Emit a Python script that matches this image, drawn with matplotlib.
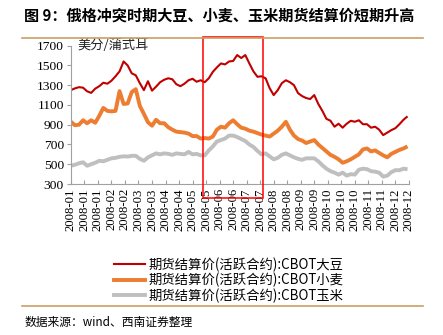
import matplotlib
matplotlib.use('Agg')
import matplotlib.pyplot as plt
from matplotlib.patches import Rectangle
from matplotlib.lines import Line2D
import matplotlib.transforms as mtransforms

plt.rcParams['font.family'] = ['Noto Sans CJK SC', 'DejaVu Sans']

# 交易日序号（每3个交易日取一个读数）
days = list(range(0, 250, 3))

soybean = [1250, 1268, 1280, 1275, 1238, 1222, 1265, 1290, 1325, 1315,
           1345, 1390, 1440, 1540, 1500, 1420, 1400, 1320, 1250, 1340,
           1245, 1285, 1330, 1355, 1370, 1360, 1310, 1290, 1315, 1350,
           1365, 1335, 1350, 1330, 1370, 1435, 1480, 1520, 1510, 1540,
           1545, 1605, 1575, 1605, 1520, 1440, 1385, 1390, 1370, 1270,
           1200, 1250, 1320, 1350, 1330, 1300, 1220, 1190, 1170, 1160,
           1200, 1110, 1040, 960, 940, 880, 910, 870, 910, 940,
           930, 945, 905, 905, 870, 880, 850, 795, 820, 845,
           865, 905, 950, 985]

wheat = [930, 895, 900, 945, 915, 945, 920, 990, 1070, 1040,
         1035, 1040, 1240, 1110, 1115, 1230, 1260, 1090, 1010, 925,
         890, 950, 915, 915, 875, 850, 830, 825, 820, 810,
         785, 785, 760, 765, 760, 780, 850, 880, 870, 915,
         945, 905, 870, 860, 840, 830, 815, 800, 790, 780,
         810, 840, 880, 930, 850, 790, 755, 740, 715, 730,
         745, 700, 665, 630, 595, 575, 550, 515, 530, 550,
         575, 600, 650, 660, 630, 640, 615, 590, 570, 605,
         625, 645, 660, 680]

corn = [485, 495, 510, 520, 485, 500, 515, 535, 530, 545,
        560, 565, 575, 580, 578, 585, 585, 555, 535, 570,
        590, 610, 600, 610, 605, 595, 610, 605, 600, 625,
        600, 605, 590, 590, 640, 680, 730, 745, 760, 790,
        790, 775, 755, 735, 700, 675, 635, 600, 610, 580,
        550, 565, 595, 610, 590, 570, 555, 545, 560, 560,
        560, 530, 490, 455, 430, 415, 395, 415, 385, 400,
        395, 445, 455, 450, 430, 425, 415, 375, 385, 420,
        440, 440, 455, 450]

tick_days = list(range(0, 251, 10))
tick_labels = ['2008-01', '2008-01', '2008-01', '2008-02', '2008-02', '2008-03',
               '2008-03', '2008-04', '2008-04', '2008-05', '2008-05', '2008-06',
               '2008-06', '2008-07', '2008-07', '2008-08', '2008-08', '2008-09',
               '2008-09', '2008-10', '2008-10', '2008-10', '2008-11', '2008-11',
               '2008-12', '2008-12']

series_names = ['期货结算价(活跃合约):CBOT大豆',
                '期货结算价(活跃合约):CBOT小麦',
                '期货结算价(活跃合约):CBOT玉米']
colors = ['#C00000', '#ED7D31', '#BFBFBF']
widths = [1.5, 2.8, 2.8]

# 冲突时期（交易日序号）
box_start, box_end = 97.6, 142.3

fig = plt.figure(figsize=(4.43, 3.35), dpi=100)
ax = fig.add_axes([0.160, 0.4507, 0.763, 0.413])

ax.plot(days, corn, color=colors[2], lw=widths[2], solid_capstyle='butt')
ax.plot(days, wheat, color=colors[1], lw=widths[1], solid_capstyle='butt')
ax.plot(days, soybean, color=colors[0], lw=widths[0], solid_capstyle='butt')

ax.set_xlim(0, 250)
ax.set_ylim(300, 1700)
ax.set_yticks(range(300, 1701, 200))
ax.set_xticks(tick_days)
ax.set_xticklabels(tick_labels, rotation=90, family='Liberation Serif', fontsize=9.2)
for lab in ax.get_yticklabels():
    lab.set_family('Liberation Serif')
    lab.set_fontsize(9.7)

for s in ['top', 'right']:
    ax.spines[s].set_visible(False)
for s in ['left', 'bottom']:
    ax.spines[s].set_color('#A0A0A0')
    ax.spines[s].set_linewidth(0.8)
ax.tick_params(axis='y', direction='out', length=3, color='#A0A0A0', pad=2)
ax.tick_params(axis='x', direction='in', length=3, color='#A0A0A0', pad=3)

ax.text(0.02, 1.0, '美分/蒲式耳', transform=ax.transAxes, fontsize=9.5,
        va='center', ha='left', color='#222222')

trans = mtransforms.blended_transform_factory(ax.transData, ax.transAxes)
ax.add_patch(Rectangle((box_start, -0.099), box_end - box_start, 1.164,
                       transform=trans, fill=False, edgecolor='#FF0000',
                       lw=1.1, clip_on=False, zorder=5))

fig.text(0.055, 0.952, '图 9：俄格冲突时期大豆、小麦、玉米期货结算价短期升高',
         fontsize=10.9, fontweight='bold', va='center', ha='left')
fig.add_artist(Line2D([0.05, 0.955], [0.888, 0.888], color='#C9A063', lw=1.2))
fig.add_artist(Line2D([0.05, 0.955], [0.088, 0.088], color='#C9A063', lw=1.2))
fig.text(0.055, 0.038, '数据来源：wind、西南证券整理', fontsize=8.5,
         style='italic', va='center', ha='left')

handles = [Line2D([], [], color=c, lw=w) for c, w in zip(colors, widths)]
fig.legend(handles, series_names, loc='upper left', bbox_to_anchor=(0.258, 0.232),
           frameon=False, fontsize=9.6, handlelength=2.3, handletextpad=0.3,
           labelspacing=0.08, borderpad=0, borderaxespad=0)

fig.savefig('out.png', dpi=100)
